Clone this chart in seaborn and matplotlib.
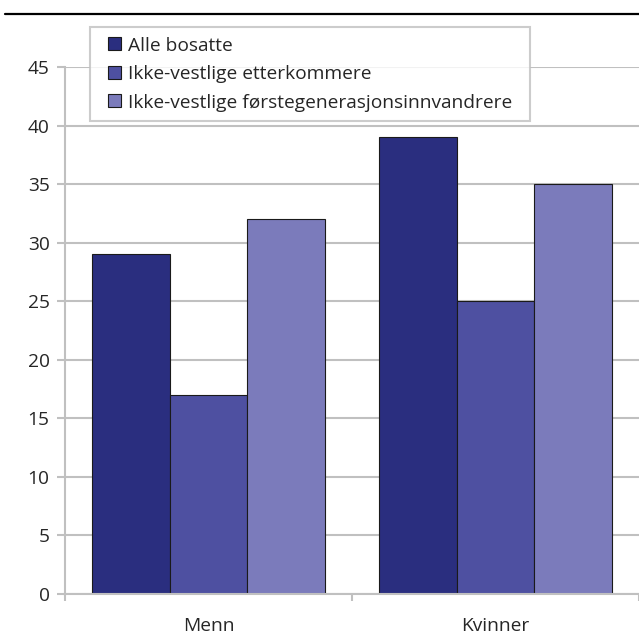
import matplotlib
matplotlib.use("Agg")
import matplotlib.pyplot as plt
from matplotlib.legend_handler import HandlerPatch
from matplotlib.lines import Line2D
import pandas as pd
import seaborn as sns

categories = ["Menn", "Kvinner"]
series = [
    "Alle bosatte",
    "Ikke-vestlige etterkommere",
    "Ikke-vestlige førstegenerasjonsinnvandrere",
]
alle_bosatte = [29, 39]
etterkommere = [17, 25]
forstegenerasjon = [32, 35]
y_ticks = [0, 5, 10, 15, 20, 25, 30, 35, 40, 45]

colors = ["#2a2e7f", "#4e50a1", "#7b7bbb"]
grid_color = "#c0c0c0"

rows = []
for name, values in zip(series, [alle_bosatte, etterkommere, forstegenerasjon]):
    for cat, val in zip(categories, values):
        rows.append({"kategori": cat, "serie": name, "verdi": val})
df = pd.DataFrame(rows)

sns.set_style("white")
plt.rcParams["font.family"] = ["Open Sans", "DejaVu Sans"]
FS = 13.8
SQ = 13  # legend square size in pixels


def square_patch(legend, orig_handle, xdescent, ydescent, width, height, fontsize):
    # small square pushed to the right side of the handle box
    s = SQ * 0.72
    return plt.Rectangle((-xdescent + width - s, -ydescent + (height - s) / 2), s, s)


fig = plt.figure(figsize=(6.39, 6.35), dpi=100, facecolor="white")
ax = fig.add_axes([65 / 639, 41 / 635, 574 / 639, 527 / 635])

sns.barplot(
    data=df, x="kategori", y="verdi", hue="serie", order=categories,
    hue_order=series, palette=colors, width=0.81, gap=0,
    edgecolor="#1a1a1a", linewidth=0.8, saturation=1, ax=ax, legend=False,
)

ax.set_ylim(0, 45)
ax.set_xlim(-0.5, 1.495)
ax.set_yticks(y_ticks)
ax.set_xticks([0, 1])
ax.set_xticklabels(categories)
ax.set_xlabel("")
ax.set_ylabel("")
ax.yaxis.grid(True, color=grid_color, linewidth=1.5)
ax.set_axisbelow(True)
for side in ["top", "right"]:
    ax.spines[side].set_visible(False)
for side in ["left", "bottom"]:
    ax.spines[side].set_color(grid_color)
    ax.spines[side].set_linewidth(1.5)

ax.tick_params(axis="y", which="both", length=6, width=1.5, color=grid_color,
               labelsize=FS, pad=5, left=True)
ax.tick_params(axis="x", which="major", length=0, labelsize=FS, pad=16.5)
# category boundary ticks
ax.set_xticks([-0.5, 0.5, 1.5], minor=True)
ax.tick_params(axis="x", which="minor", length=5, width=1.5, color=grid_color,
               bottom=True, direction="out")

handles = [plt.Rectangle((0, 0), 1, 1, facecolor=c, edgecolor="#1a1a1a", linewidth=0.8)
           for c in colors]
leg = fig.legend(
    handles, series, loc="upper left",
    bbox_to_anchor=(90 / 639, 1 - 122 / 635, 440 / 639, 95 / 635),
    mode="expand", frameon=True, fancybox=False, fontsize=FS,
    handlelength=1.1, handleheight=0.7, handletextpad=0.4, labelspacing=0.55,
    borderpad=0.5, borderaxespad=0,
    handler_map={plt.Rectangle: HandlerPatch(patch_func=square_patch)},
)
leg.get_frame().set_edgecolor(grid_color)
leg.get_frame().set_linewidth(1.5)

fig.add_artist(Line2D([5 / 639, 1], [1 - 14 / 635, 1 - 14 / 635],
                      color="black", linewidth=1.6, transform=fig.transFigure))

fig.savefig("out.png", dpi=100, facecolor="white")
